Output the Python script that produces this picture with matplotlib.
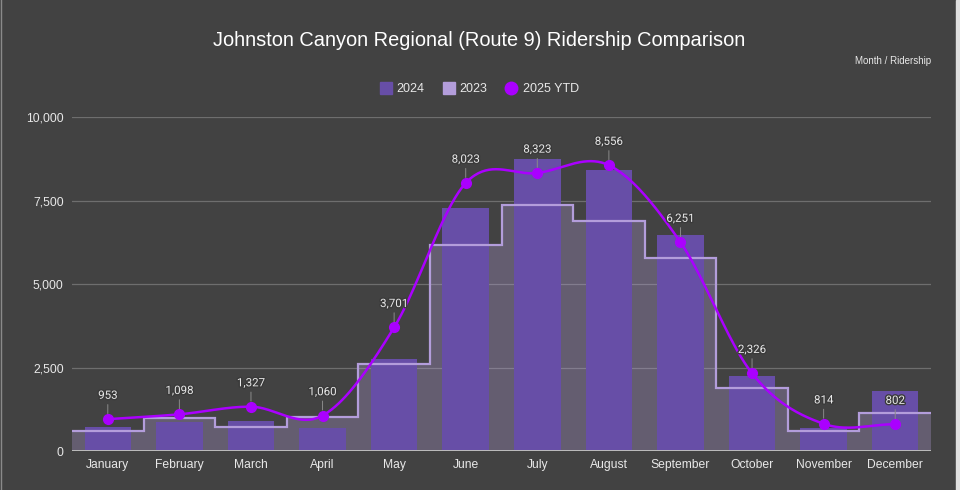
import matplotlib
matplotlib.use("Agg")
import matplotlib.pyplot as plt
import matplotlib.patheffects as pe
from matplotlib.lines import Line2D
import numpy as np

months = ["January", "February", "March", "April", "May", "June", "July",
          "August", "September", "October", "November", "December"]
ride_2024 = [730, 880, 910, 700, 2750, 7270, 8730, 8400, 6460, 2250, 680, 1800]
ride_2023 = [600, 980, 710, 1030, 2600, 6170, 7380, 6890, 5770, 1900, 610, 1130]
ride_2025 = [953, 1098, 1327, 1060, 3701, 8023, 8323, 8556, 6251, 2326, 814, 802]
y_ticks = [0, 2500, 5000, 7500, 10000]

BG = "#424242"
BAR = "#674ea7"
STEP = "#b39ddb"
LINE = "#aa00ff"
TXT = "#e8e8e8"
SANS = ["Liberation Sans", "DejaVu Sans"]


def smooth(y, n=40):
    # Catmull-Rom style cubic through the points (drawing only)
    y = np.asarray(y, float)
    m = np.zeros_like(y)
    m[1:-1] = (y[2:] - y[:-2]) / 2
    m[0] = y[1] - y[0]
    m[-1] = y[-1] - y[-2]
    xs, ys = [], []
    for i in range(len(y) - 1):
        t = np.linspace(0, 1, n, endpoint=False)
        h00 = 2 * t**3 - 3 * t**2 + 1
        h10 = t**3 - 2 * t**2 + t
        h01 = -2 * t**3 + 3 * t**2
        h11 = t**3 - t**2
        xs.append(i + t)
        ys.append(h00 * y[i] + h10 * m[i] + h01 * y[i + 1] + h11 * m[i + 1])
    xs.append([len(y) - 1])
    ys.append([y[-1]])
    return np.concatenate(xs), np.concatenate(ys)


fig = plt.figure(figsize=(9.6, 4.9), dpi=100, facecolor=BG)
ax = fig.add_axes([72 / 960, 1 - 451 / 490, (931 - 72) / 960, (451 - 117) / 490])
ax.set_facecolor(BG)

x = np.arange(len(months))
edges = np.arange(len(months) + 1) - 0.5

# 2023 stepped area
ax.stairs(ride_2023, edges, fill=True, color=STEP, alpha=0.3, lw=0, zorder=1)
ax.stairs(ride_2023, edges, baseline=None, color=STEP, lw=1.6, zorder=3)

# 2024 bars
ax.bar(x, ride_2024, width=0.65, color=BAR, zorder=2)

# 2025 YTD smooth line
sx, sy = smooth(ride_2025)
ax.plot(sx, sy, color=LINE, lw=1.8, zorder=4)
ax.plot(x, ride_2025, "o", color=LINE, ms=7, zorder=5)
for i, v in enumerate(ride_2025):
    ax.annotate(f"{v:,}", xy=(i, v), xytext=(0, 12.5), textcoords="offset points",
                ha="center", va="bottom", fontsize=8.3, color=TXT, family=["Roboto", "DejaVu Sans"],
                path_effects=[pe.withStroke(linewidth=2, foreground="#3a3a3a")],
                arrowprops=dict(arrowstyle="-", color="#8a8a8a", lw=0.7,
                                shrinkA=0, shrinkB=4), zorder=6)

ax.set_xlim(-0.5, 11.5)
ax.set_ylim(0, 10000)
ax.set_yticks(y_ticks)
ax.set_yticklabels([f"{t:,}" for t in y_ticks], fontsize=8.8, color=TXT, family=SANS)
ax.set_xticks(x)
ax.set_xticklabels(months, fontsize=8.7, color=TXT, family=SANS)
ax.tick_params(length=0, pad=6)
ax.grid(axis="y", color="#6e6e6e", lw=0.9, zorder=0)
ax.set_axisbelow(True)
for s in ax.spines.values():
    s.set_visible(False)
ax.axhline(0, color="#bdbdbd", lw=1.4, zorder=3.5)

fig.text(0.499, 1 - 40 / 490, "Johnston Canyon Regional (Route 9) Ridership Comparison",
         ha="center", va="center", fontsize=14.4, color="white", family=SANS)
fig.text(931 / 960, 1 - 61 / 490, "Month / Ridership", ha="right", va="center",
         fontsize=7, color=TXT, family=SANS)

handles = [Line2D([], [], marker="s", ls="", color=BAR, ms=8),
           Line2D([], [], marker="s", ls="", color=STEP, ms=8),
           Line2D([], [], marker="o", ls="", color=LINE, ms=9)]
leg = fig.legend(handles, ["2024", "2023", "2025 YTD"], loc="center",
                 bbox_to_anchor=(0.499, 1 - 89 / 490), ncol=3, frameon=False,
                 handletextpad=0.4, columnspacing=1.4, handlelength=1.0,
                 prop={"family": SANS, "size": 9})
for t in leg.get_texts():
    t.set_color(TXT)

# light frame edges like the original screenshot
fig.add_artist(Line2D([1 / 960, 1 / 960], [0, 1], color="#8a8a8a", lw=1))
fig.add_artist(plt.Rectangle((956 / 960, 0), 4 / 960, 1, color="#e0e0e0", transform=fig.transFigure))

fig.savefig("out.png", dpi=100, facecolor=BG)
